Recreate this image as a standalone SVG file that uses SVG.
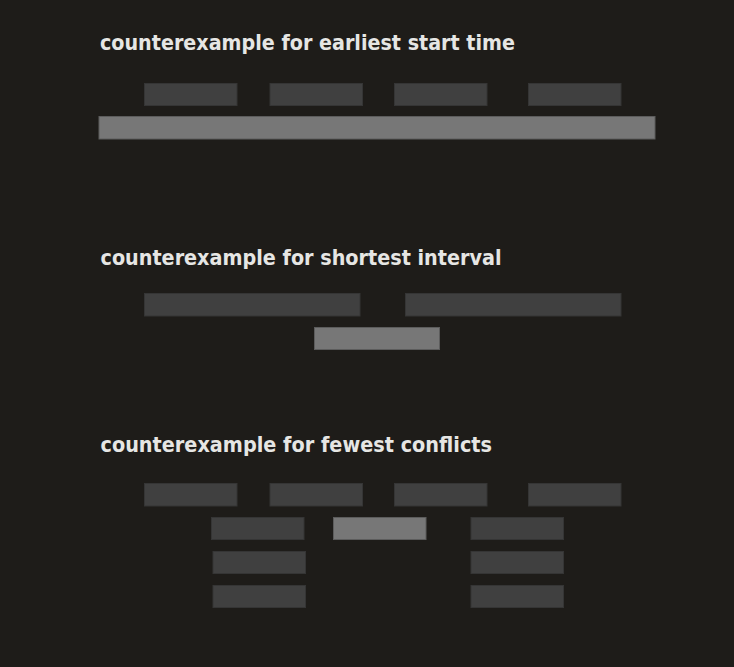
<svg xmlns="http://www.w3.org/2000/svg" width="734" height="667" viewBox="0 0 734 667">
  <style>
    .title { font-family: "DejaVu Sans", "Liberation Sans", sans-serif; font-weight: bold; font-size: 20.5px; fill: #e6e6e4; }
    .dark { fill: #404040; stroke: #353535; stroke-width: 1; }
    .lite { fill: #777777; stroke: #5c5c5c; stroke-width: 1; }
  </style>
  <rect width="734" height="667" fill="#1e1c19"/>

  <!-- earliest start time -->
  <g id="earliest">
    <text class="title" x="100" y="50" textLength="415" lengthAdjust="spacingAndGlyphs">counterexample for earliest start time</text>
    <rect class="dark" x="144.5" y="83.5" width="92.5" height="22"/>
    <rect class="dark" x="270" y="83.5" width="92.5" height="22"/>
    <rect class="dark" x="394.5" y="83.5" width="92.5" height="22"/>
    <rect class="dark" x="528.5" y="83.5" width="92.5" height="22"/>
    <rect class="lite" x="99" y="116.5" width="556" height="22.5"/>
  </g>

  <!-- shortest interval -->
  <g id="shortest">
    <text class="title" x="100.5" y="265" textLength="401" lengthAdjust="spacingAndGlyphs">counterexample for shortest interval</text>
    <rect class="dark" x="144.5" y="293.5" width="215.5" height="22.5"/>
    <rect class="dark" x="405.5" y="293.5" width="215.5" height="22.5"/>
    <rect class="lite" x="314.5" y="327.5" width="125" height="22"/>
  </g>

  <!-- fewest conflicts -->
  <g id="fewest">
    <text class="title" x="100.5" y="452" textLength="391.5" lengthAdjust="spacingAndGlyphs">counterexample for fewest conflicts</text>
    <rect class="dark" x="144.5" y="483.5" width="92.5" height="22.5"/>
    <rect class="dark" x="270" y="483.5" width="92.5" height="22.5"/>
    <rect class="dark" x="394.5" y="483.5" width="92.5" height="22.5"/>
    <rect class="dark" x="528.5" y="483.5" width="92.5" height="22.5"/>
    <rect class="dark" x="211.5" y="517.5" width="92.5" height="22"/>
    <rect class="lite" x="333.5" y="517.5" width="92.5" height="22"/>
    <rect class="dark" x="471" y="517.5" width="92.5" height="22"/>
    <rect class="dark" x="213" y="551.5" width="92.5" height="22"/>
    <rect class="dark" x="471" y="551.5" width="92.5" height="22"/>
    <rect class="dark" x="213" y="585.5" width="92.5" height="22"/>
    <rect class="dark" x="471" y="585.5" width="92.5" height="22"/>
  </g>
</svg>
